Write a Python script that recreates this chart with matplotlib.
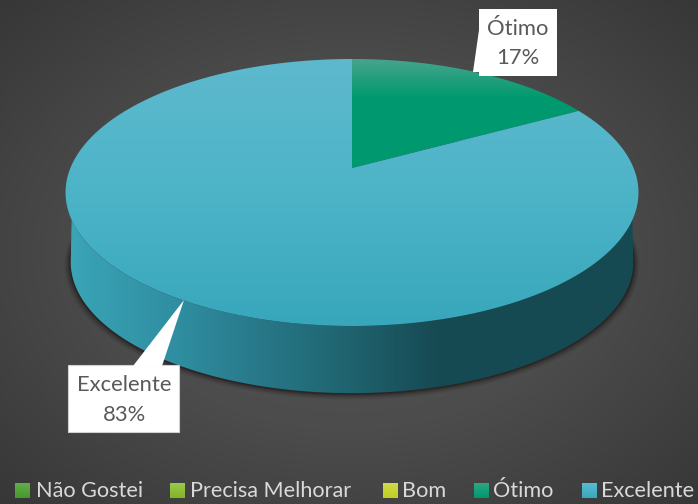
import numpy as np
import matplotlib
matplotlib.use("Agg")
import matplotlib.pyplot as plt
from matplotlib.patches import Polygon
from matplotlib.colors import LinearSegmentedColormap

plt.rcParams['font.family'] = ['Lato', 'DejaVu Sans']

labels = ['Não Gostei', 'Precisa Melhorar', 'Bom', 'Ótimo', 'Excelente']
values = [0, 0, 0, 17, 83]
top_colors = [('#6fb65a', '#4a9a30'), ('#a4cc5c', '#84b428'), ('#d4dc50', '#bfcf22'),
              ('#46a58c', '#00996f', '#00996f', '#00996f'), ('#5eb9cd', '#4db4c8', '#38a7bb')]
legend_colors = [('#62ad4c', '#46982c'), ('#9ac84a', '#84b428'), ('#d0da48', '#bfcf22'),
                 ('#2da586', '#00996f'), ('#5cbbd0', '#38a7bb')]
side_colors = [(0, '#3ba5b8'), (0.2, '#2f8da0'), (0.33, '#28798a'), (0.45, '#216a76'),
               (0.65, '#174a53'), (1, '#164a53')]

legend_sq_x = [15, 170, 383, 474, 582]
legend_txt_x = [36, 190, 402, 493, 601]

# pie geometry in pixels
cx, cy = 352, 168
A, B, k = 281.6, 129.0, 0.1835
depth = 70
base_scale = 0.982


def rim(th, dy=0, s=1.0):
    # th is clockwise from the top, perspective tilted circle
    den = 1 + k * np.cos(th)
    return cx + s * A * np.sin(th) / den, cy - s * B * np.cos(th) / den + dy


def gradient(ax, arr, cmap, extent, clip):
    im = ax.imshow(arr, cmap=cmap, extent=extent, aspect='auto', zorder=clip.get_zorder())
    im.set_clip_path(clip)


fig = plt.figure(figsize=(6.98, 5.04), dpi=100)
ax = fig.add_axes([0, 0, 1, 1])
ax.set_xlim(0, 698)
ax.set_ylim(504, 0)
ax.axis('off')

# background
yy, xx = np.mgrid[0:504, 0:698]
r = np.hypot((xx - 349) / 349, (yy - 252) / 252) / np.sqrt(2)
bg = LinearSegmentedColormap.from_list('bg', ['#565656', '#4c4c4c', '#373737'])
ax.imshow(r, cmap=bg, vmin=0, vmax=1, extent=(0, 698, 504, 0), aspect='auto', zorder=0)

th_edge = np.arccos(-k)
th_all = np.linspace(0, 2 * np.pi, 400)

# soft shadow under the pie
for grow, alpha in [(6, 0.08), (4.5, 0.12), (3, 0.2), (1.5, 0.35)]:
    sx, sy = rim(th_all, depth + grow * 0.5, base_scale + grow / 281.6)
    ax.add_patch(Polygon(np.c_[sx, sy], closed=True, fc='#140c0c', ec='none', alpha=alpha, zorder=1))

# side wall
th_wall = np.radians(112)
th_side = np.linspace(th_wall, 2 * np.pi - th_wall, 200)
th_base = np.linspace(2 * np.pi - th_edge, th_edge, 200)
x1, y1 = rim(th_side)
x2, y2 = rim(th_base, depth, base_scale)
side = Polygon(np.r_[np.c_[x1, y1], np.c_[x2, y2]], closed=True, fc='none', ec='none', zorder=2)
ax.add_patch(side)
side_cmap = LinearSegmentedColormap.from_list('side', side_colors)
gradient(ax, np.linspace(0, 1, 256)[None, :], side_cmap, (66, 639, 420, 150), side)

# top face
start = 0
total = sum(values)
for label, val, cols in zip(labels, values, top_colors):
    if val == 0:
        continue
    end = start + val / total * 2 * np.pi
    th = np.linspace(start, end, 200)
    x, y = rim(th)
    face = Polygon(np.r_[[[cx, cy]], np.c_[x, y]], closed=True, fc='none', ec='none', zorder=3)
    ax.add_patch(face)
    cmap = LinearSegmentedColormap.from_list(label, cols)
    if label == 'Ótimo':
        gradient(ax, np.linspace(0, 1, 256)[:, None], cmap, (60, 640, 175, 59), face)
    else:
        gradient(ax, np.linspace(0, 1, 256)[:, None], cmap, (60, 640, 326, 59), face)
    start = end

# callouts
box_edge = '#d0d0d0'
ax.add_patch(Polygon([[479, 9], [557, 9], [557, 76], [479, 76]], closed=True, fc='white', ec='none', zorder=5))
ax.add_patch(Polygon([[479, 30], [479, 72], [473, 72]], closed=True, fc='white', ec='none', zorder=5))
ax.text(518, 29, 'Ótimo', fontsize=15.8, color='#595959', ha='center', va='center', zorder=6)
ax.text(518, 58, '17%', fontsize=15.8, color='#595959', ha='center', va='center', zorder=6)

ax.add_patch(Polygon([[68, 365], [179, 365], [179, 432], [68, 432]], closed=True, fc='white', ec=box_edge, lw=0.8, zorder=5))
ax.add_patch(Polygon([[133, 366], [162, 366], [184, 300]], closed=True, fc='white', ec='none', zorder=5))
ax.text(124, 385, 'Excelente', fontsize=15.8, color='#595959', ha='center', va='center', zorder=6)
ax.text(124, 415, '83%', fontsize=15.8, color='#595959', ha='center', va='center', zorder=6)

# legend
for label, cols, qx, tx in zip(labels, legend_colors, legend_sq_x, legend_txt_x):
    sq = Polygon([[qx, 483], [qx + 15, 483], [qx + 15, 498], [qx, 498]], closed=True, fc='none', ec='none', zorder=3)
    ax.add_patch(sq)
    gradient(ax, np.linspace(0, 1, 32)[:, None], LinearSegmentedColormap.from_list('l' + label, cols),
             (qx, qx + 15, 498, 483), sq)
    ax.text(tx, 491, label, fontsize=15.6, color='#d9d9d9', ha='left', va='center', zorder=6)

ax.set_xlim(0, 698)
ax.set_ylim(504, 0)
fig.savefig('out.png', dpi=100)
